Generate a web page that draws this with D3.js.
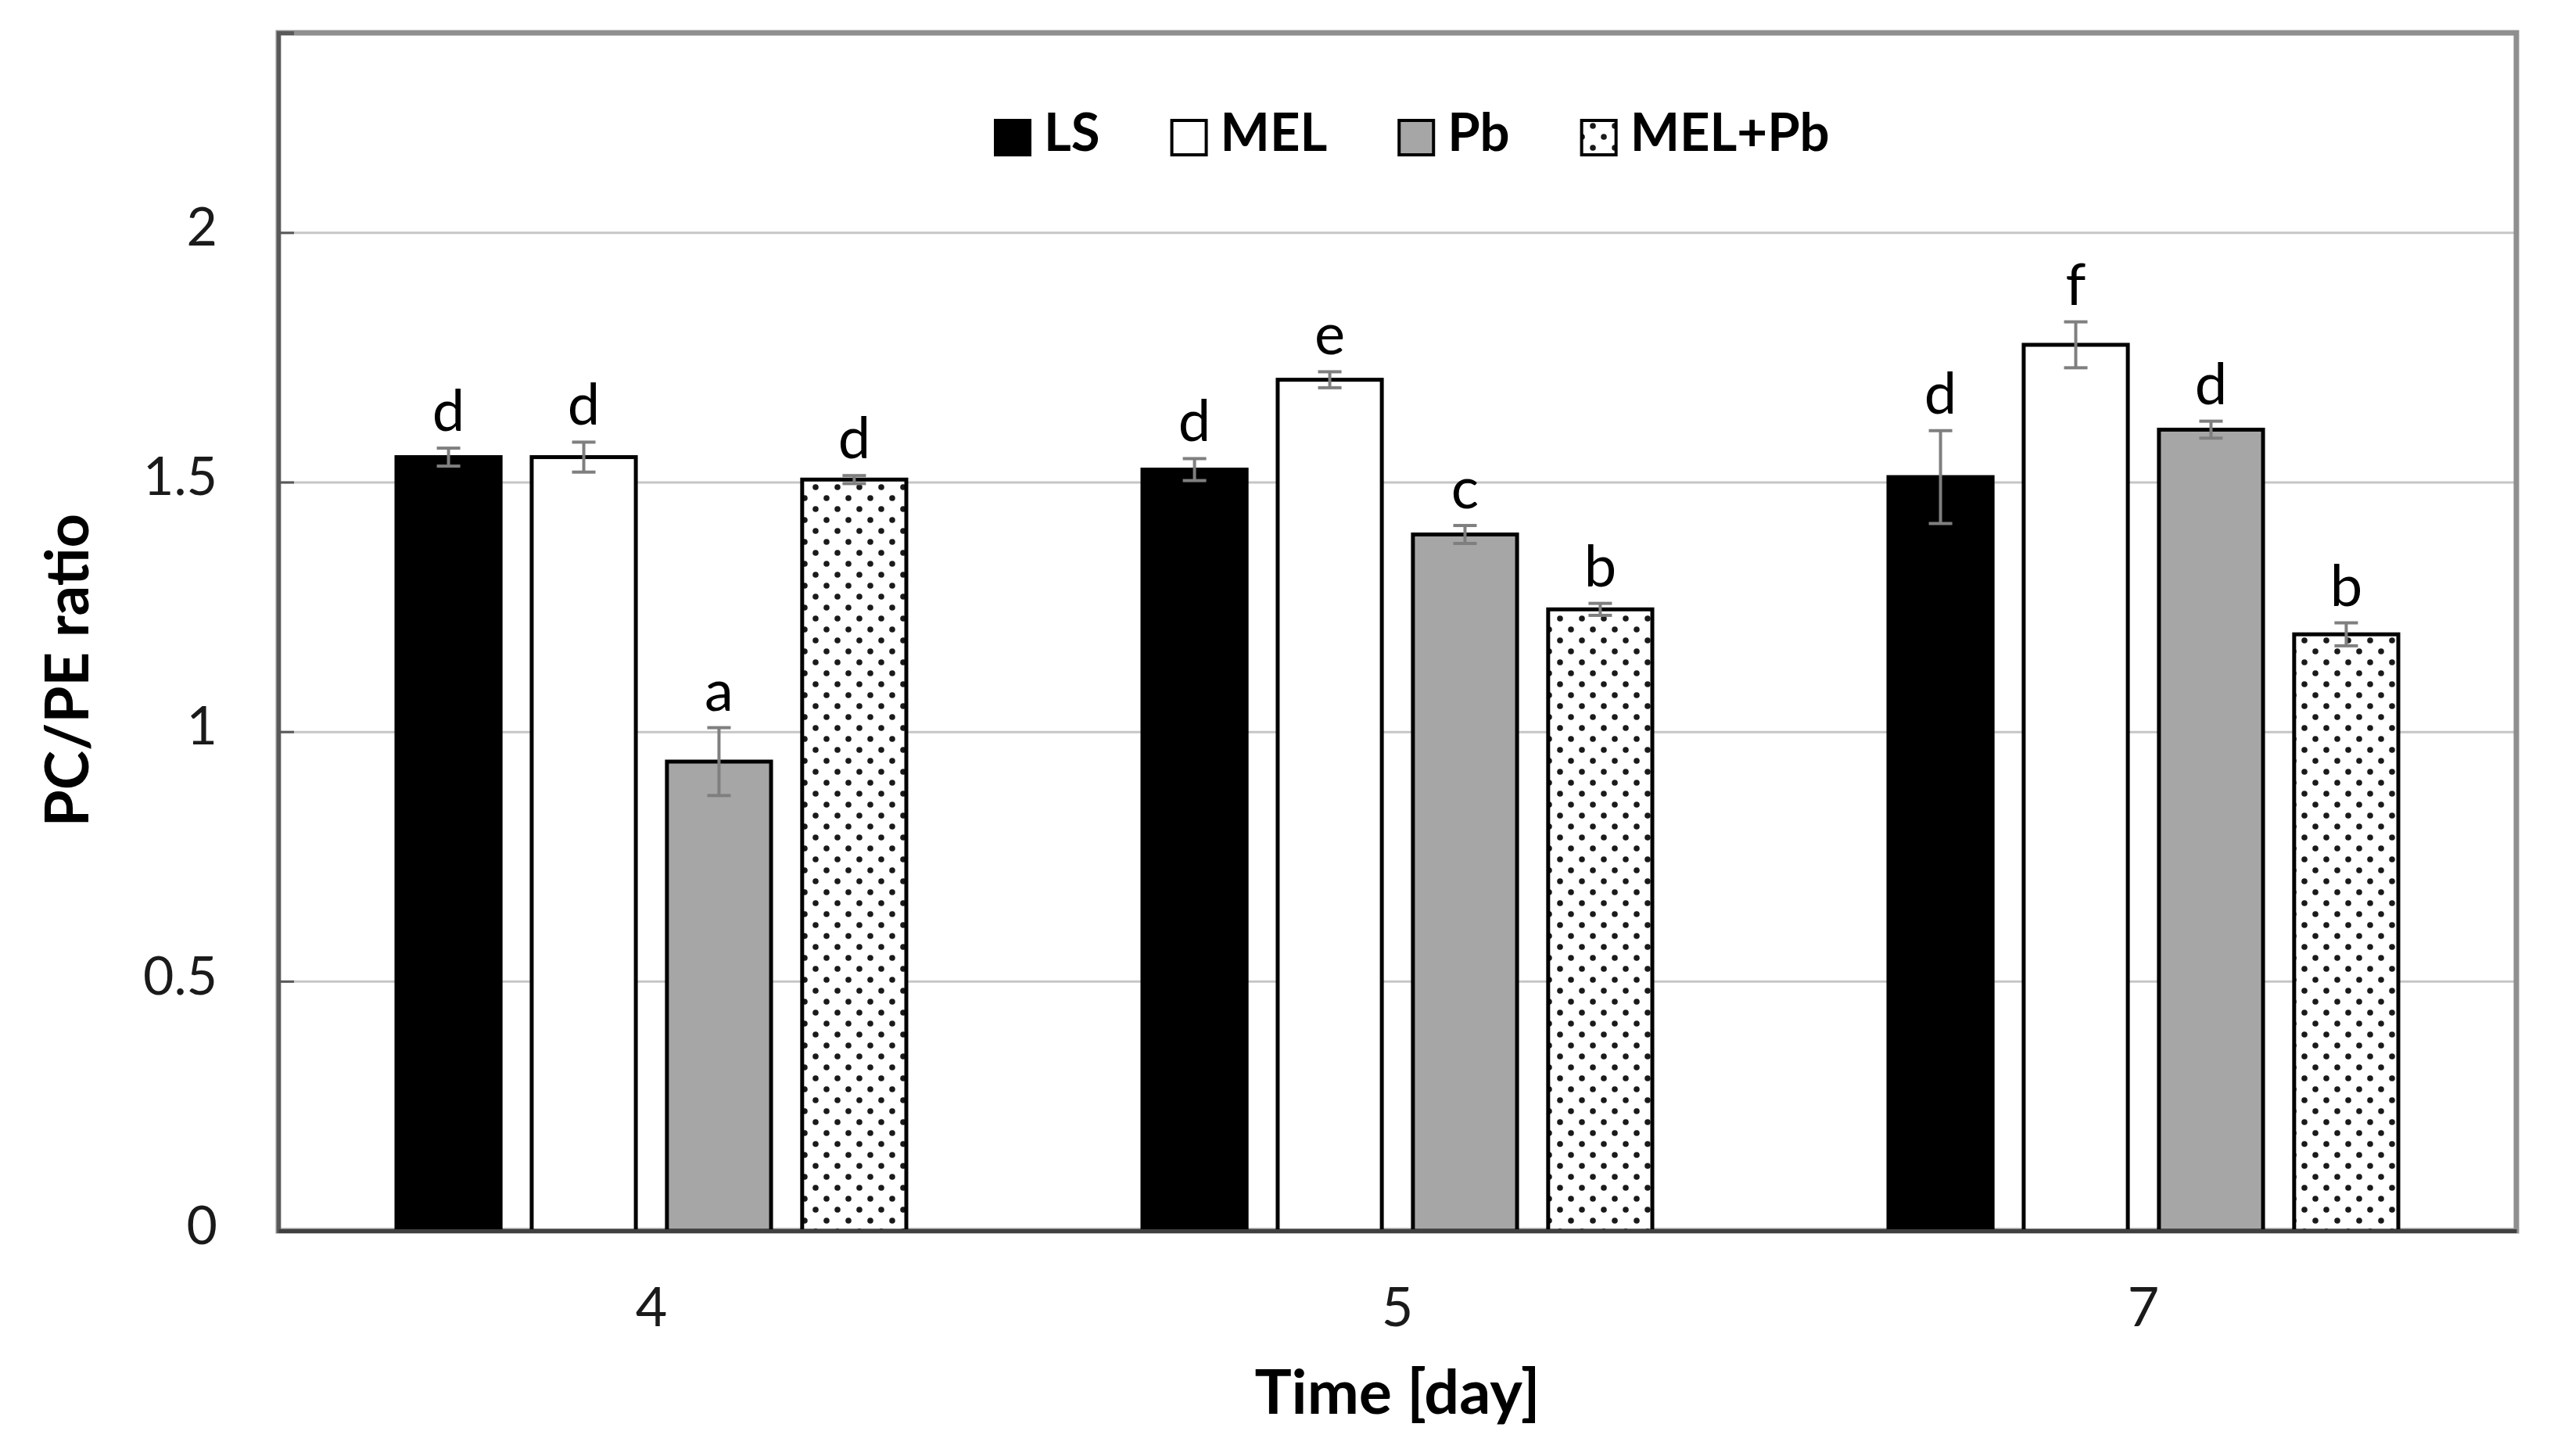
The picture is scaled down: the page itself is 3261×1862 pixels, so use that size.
<!DOCTYPE html>
<html>
<head>
<meta charset="utf-8">
<script src="https://cdn.jsdelivr.net/npm/d3@7"></script>
<style>
body { margin: 0; background: #fff; }
svg { display: block; }
text { font-family: Lato, "Open Sans", sans-serif; }
</style>
</head>
<body>
<svg id="chart"></svg>
<script>
// values
var days = ['4', '5', '7'];
var seriesNames = ['LS', 'MEL', 'Pb', 'MEL+Pb'];
var lsValues = [1.55, 1.525, 1.51];
var melValues = [1.55, 1.705, 1.775];
var pbValues = [0.94, 1.395, 1.605];
var melPbValues = [1.505, 1.245, 1.195];
var lsErrors = [0.018, 0.022, 0.093];
var melErrors = [0.03, 0.016, 0.046];
var pbErrors = [0.068, 0.018, 0.017];
var melPbErrors = [0.008, 0.012, 0.023];
var lsLetters = ['d', 'd', 'd'];
var melLetters = ['d', 'e', 'f'];
var pbLetters = ['a', 'c', 'd'];
var melPbLetters = ['d', 'b', 'b'];
var yTicks = [0, 0.5, 1, 1.5, 2];

var W = 3261, H = 1862;
var plotLeft = 356, plotRight = 3218, plotTop = 42, plotBottom = 1574;

var series = [
	{name: 'LS', values: lsValues, errors: lsErrors, letters: lsLetters, fill: '#000000'},
	{name: 'MEL', values: melValues, errors: melErrors, letters: melLetters, fill: '#ffffff'},
	{name: 'Pb', values: pbValues, errors: pbErrors, letters: pbLetters, fill: '#a6a6a6'},
	{name: 'MEL+Pb', values: melPbValues, errors: melPbErrors, letters: melPbLetters, fill: 'url(#dots)'}
];

var svg = d3.select('#chart').attr('width', W).attr('height', H);

// dotted fill for MEL+Pb
var pat = svg.append('defs').append('pattern')
	.attr('id', 'dots')
	.attr('patternUnits', 'userSpaceOnUse')
	.attr('width', 28).attr('height', 28);
pat.append('rect').attr('width', 28).attr('height', 28).attr('fill', '#fff');
pat.append('circle').attr('cx', 7).attr('cy', 7).attr('r', 3.8).attr('fill', '#1a1a1a');
pat.append('circle').attr('cx', 21).attr('cy', 21).attr('r', 3.8).attr('fill', '#1a1a1a');

var x0 = d3.scaleBand().domain(days).range([plotLeft, plotRight]).padding(0);
var groupWidth = 652;
var x1 = d3.scaleBand().domain(seriesNames).range([0, groupWidth]).paddingInner(0.23);
var y = d3.scaleLinear().domain([0, 2.4]).range([plotBottom, plotTop]);

function barX(name, day) {
	return x0(day) + x0.bandwidth() / 2 - groupWidth / 2 + x1(name);
}

// gridlines
svg.append('g')
	.attr('transform', 'translate(' + plotLeft + ',0)')
	.call(d3.axisLeft(y).tickValues([0.5, 1, 1.5, 2]).tickSize(-(plotRight - plotLeft)).tickFormat(''))
	.call(function(g) {
		g.select('.domain').remove();
		g.selectAll('line').attr('stroke', '#c6c6c6').attr('stroke-width', 3);
	});

// plot area border
svg.append('rect')
	.attr('x', plotLeft).attr('y', plotTop)
	.attr('width', plotRight - plotLeft).attr('height', plotBottom - plotTop)
	.attr('fill', 'none').attr('stroke', '#8f8f8f').attr('stroke-width', 7);

// bars
var rows = [];
series.forEach(function(s) {
	days.forEach(function(d, j) {
		rows.push({name: s.name, day: d, v: s.values[j], e: s.errors[j], letter: s.letters[j], fill: s.fill});
	});
});

svg.append('g').selectAll('rect').data(rows).enter().append('rect')
	.attr('x', function(d) { return barX(d.name, d.day); })
	.attr('y', function(d) { return y(d.v); })
	.attr('width', x1.bandwidth())
	.attr('height', function(d) { return y(0) - y(d.v); })
	.attr('fill', function(d) { return d.fill; })
	.attr('stroke', '#000').attr('stroke-width', 5);

// error bars
var cap = 15;
var err = svg.append('g').attr('stroke', '#7f7f7f').attr('stroke-width', 4)
	.selectAll('g').data(rows).enter().append('g')
	.attr('transform', function(d) { return 'translate(' + (barX(d.name, d.day) + x1.bandwidth() / 2) + ',0)'; });
err.append('line')
	.attr('y1', function(d) { return y(d.v + d.e); })
	.attr('y2', function(d) { return y(d.v - d.e); });
err.append('line').attr('x1', -cap).attr('x2', cap)
	.attr('y1', function(d) { return y(d.v + d.e); })
	.attr('y2', function(d) { return y(d.v + d.e); });
err.append('line').attr('x1', -cap).attr('x2', cap)
	.attr('y1', function(d) { return y(d.v - d.e); })
	.attr('y2', function(d) { return y(d.v - d.e); });

// significance letters
svg.append('g').selectAll('text').data(rows).enter().append('text')
	.attr('x', function(d) { return barX(d.name, d.day) + x1.bandwidth() / 2; })
	.attr('y', function(d) { return y(d.v + d.e) - 22; })
	.attr('text-anchor', 'middle')
	.attr('font-size', 74)
	.attr('fill', '#000')
	.text(function(d) { return d.letter; });

// y axis
svg.append('g')
	.attr('transform', 'translate(' + plotLeft + ',0)')
	.call(d3.axisLeft(y).tickValues(yTicks).tickSize(-20).tickPadding(78).tickFormat(d3.format('')))
	.call(function(g) {
		g.select('.domain').attr('stroke', '#595959').attr('stroke-width', 5);
		g.selectAll('line').attr('stroke', '#595959').attr('stroke-width', 3);
		g.selectAll('text').attr('font-size', 68).attr('fill', '#1a1a1a')
			.attr('font-family', 'Lato, "Open Sans", sans-serif').attr('dy', '0.24em');
	});

// x axis
svg.append('g')
	.attr('transform', 'translate(0,' + plotBottom + ')')
	.call(d3.axisBottom(x0).tickSize(0).tickPadding(72))
	.call(function(g) {
		g.select('.domain').attr('stroke', '#404040').attr('stroke-width', 5);
		g.selectAll('text').attr('font-size', 70).attr('fill', '#1a1a1a')
			.attr('font-family', 'Lato, "Open Sans", sans-serif');
	});

// axis titles
svg.append('text')
	.attr('x', (plotLeft + plotRight) / 2).attr('y', 1808)
	.attr('text-anchor', 'middle')
	.attr('font-size', 79).attr('font-weight', 'bold')
	.text('Time [day]');

svg.append('text')
	.attr('transform', 'translate(113,857) rotate(-90)')
	.attr('text-anchor', 'middle')
	.attr('font-size', 76).attr('font-weight', 'bold')
	.text('PC/PE ratio');

// legend
var legend = svg.append('g');
var lx = 1273, sw = 44;
series.forEach(function(s) {
	legend.append('rect')
		.attr('x', lx).attr('y', 154).attr('width', sw).attr('height', sw)
		.attr('fill', s.fill).attr('stroke', '#000').attr('stroke-width', 4);
	var t = legend.append('text')
		.attr('x', lx + sw + 18).attr('y', 193)
		.attr('font-size', 67).attr('font-weight', 'bold')
		.text(s.name);
	lx += sw + 18 + t.node().getComputedTextLength() + 92;
});
</script>
</body>
</html>
